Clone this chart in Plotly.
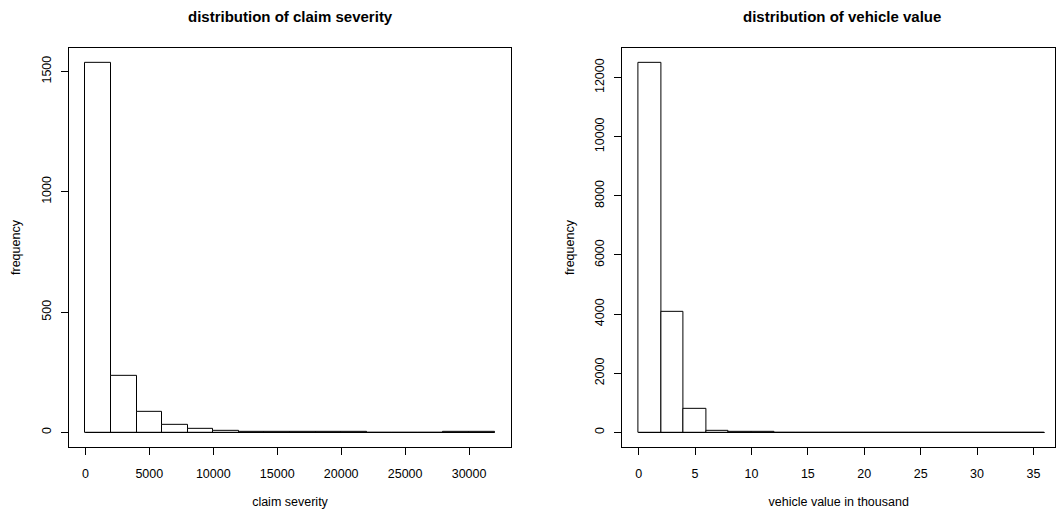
import plotly.graph_objects as go

# ---- data ----
sev_edges = [0, 2000, 4000, 6000, 8000, 10000, 12000, 14000, 16000,
             18000, 20000, 22000, 24000, 26000, 28000, 30000, 32000]
sev_counts = [1537, 237, 87, 33, 15, 6, 3, 3, 1, 1, 1, 0, 0, 0, 1, 1]
sev_xticks = [0, 5000, 10000, 15000, 20000, 25000, 30000]
sev_yticks = [0, 500, 1000, 1500]

veh_edges = [0, 2, 4, 6, 8, 10, 12, 14, 16, 18, 20, 22, 24, 26, 28, 30, 32, 34, 36]
veh_counts = [12504, 4078, 786, 67, 25, 6, 3, 2, 2, 0, 1, 0, 0, 0, 0, 0, 0, 1]
veh_xticks = [0, 5, 10, 15, 20, 25, 30, 35]
veh_yticks = [0, 2000, 4000, 6000, 8000, 10000, 12000]

titles = ["distribution of claim severity", "distribution of vehicle value"]
xlabels = ["claim severity", "vehicle value in thousand"]
ylabel = "frequency"

# page body has an 8px margin; keep the figure inside the window (no scrolling)
OFF = 8
W, H = 1064 - 2 * OFF, 517 - 2 * OFF
FONT = "Liberation Sans, Arial, Helvetica, sans-serif"

# plot-box positions in page pixels (reference) -> figure pixels
ref_boxes_x = [(69, 511), (622.4, 1061)]
max_right = OFF + W - 1          # last page pixel the figure can reach
box_top, box_bot = 48 - OFF, 449 - OFF

fig = go.Figure()


def add_hist(edges, counts, xa, ya):
    centers = [(a + b) / 2 for a, b in zip(edges[:-1], edges[1:])]
    widths = [b - a for a, b in zip(edges[:-1], edges[1:])]
    fig.add_trace(go.Bar(
        x=centers, y=counts, width=widths,
        marker=dict(color="white", line=dict(color="black", width=1)),
        xaxis=xa, yaxis=ya, showlegend=False, hoverinfo="x+y"))
    # zero-height bins drawn as a baseline, like R's hist
    fig.add_trace(go.Scatter(
        x=[edges[0], edges[-1]], y=[0, 0], mode="lines",
        line=dict(color="black", width=1),
        xaxis=xa, yaxis=ya, showlegend=False, hoverinfo="skip"))


add_hist(sev_edges, sev_counts, "x", "y")
add_hist(veh_edges, veh_counts, "x2", "y2")


def rng(lo, hi):
    d = (hi - lo) * 0.04
    return [lo - d, hi + d]


axis_common = dict(
    showline=True, mirror=True, linecolor="black", linewidth=1,
    ticks="outside", ticklen=7, tickcolor="black", tickwidth=1,
    showgrid=False, zeroline=False,
    tickfont=dict(family=FONT, size=12.5, color="black"),
    title_font=dict(family=FONT, size=12.5, color="black"),
)

ydom = [1 - box_bot / H, 1 - box_top / H]

layout = dict(
    width=W, height=H,
    margin=dict(l=0, r=0, t=0, b=0),
    paper_bgcolor="white", plot_bgcolor="white",
    bargap=0, showlegend=False,
    font=dict(family=FONT, color="black"),
)

title_centers = []
for i, (edges, counts, xt, yt) in enumerate([
        (sev_edges, sev_counts, sev_xticks, sev_yticks),
        (veh_edges, veh_counts, veh_xticks, veh_yticks)]):
    sfx = "" if i == 0 else str(i + 1)
    xl, xr_ref = ref_boxes_x[i]
    xr = min(xr_ref, max_right)
    r0, r1 = rng(edges[0], edges[-1])
    # keep the reference's data-to-pixel scale if the box must be narrowed
    r1 = r0 + (r1 - r0) * (xr - xl) / (xr_ref - xl)
    title_centers.append((xl + xr_ref) / 2 - OFF)
    layout["xaxis" + sfx] = dict(
        axis_common, domain=[(xl - OFF) / W, (xr - OFF) / W],
        range=[r0, r1],
        tickvals=xt, ticktext=[str(v) for v in xt],
        ticklabelstandoff=8,
        anchor="y" + sfx,
        title=dict(text=xlabels[i], standoff=19),
    )
    layout["yaxis" + sfx] = dict(
        axis_common, domain=ydom,
        range=rng(0, max(counts)),
        tickvals=yt, ticktext=[str(v) for v in yt],
        tickangle=-90,
        ticklabelstandoff=5,
        anchor="x" + sfx,
        title=dict(text=ylabel, standoff=16),
    )

fig.update_layout(**layout)

for i, t in enumerate(titles):
    fig.add_annotation(
        text="<b>%s</b>" % t, xref="paper", yref="paper",
        x=title_centers[i] / W, y=1 - (16.5 - OFF) / H,
        xanchor="center", yanchor="middle", showarrow=False,
        font=dict(family=FONT, size=15, color="black"))

fig.write_html("out.html")
